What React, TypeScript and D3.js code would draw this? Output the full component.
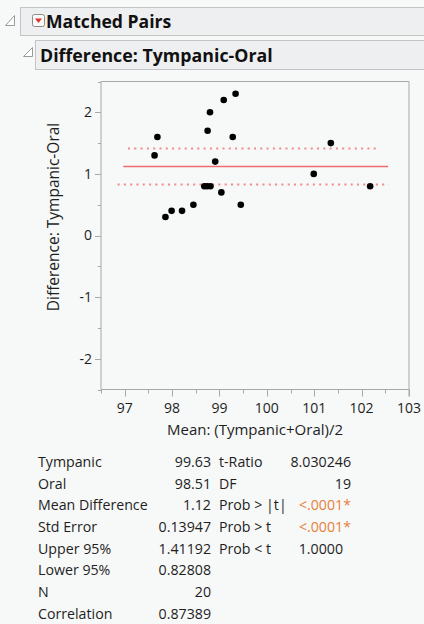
import React from "react";
import * as d3 from "d3";

const meanVals = [97.63, 97.69, 97.86, 97.99, 98.21, 98.45, 98.68, 98.74, 98.81, 98.75, 98.80, 98.91, 99.04, 99.09, 99.28, 99.34, 99.45, 100.99, 101.35, 102.18];
const diffVals = [1.3, 1.6, 0.3, 0.4, 0.4, 0.5, 0.8, 0.8, 0.8, 1.7, 2.0, 1.2, 0.7, 2.2, 1.6, 2.3, 0.5, 1.0, 1.5, 0.8];

const xTicks = [97, 98, 99, 100, 101, 102, 103];
const yTicks = [-2, -1, 0, 1, 2];
const xMinor = [96.5, 97.5, 98.5, 99.5, 100.5, 101.5, 102.5];
const yMinor = [-2.5, -1.5, -0.5, 0.5, 1.5, 2.5];

const meanDiff = 1.12;
const upper95 = 1.41192;
const lower95 = 0.82808;
const meanLineExtent = [96.97, 102.56];
const upperLineExtent = [97.07, 102.37];
const lowerLineExtent = [96.85, 102.57];

const leftLabels = ["Tympanic", "Oral", "Mean Difference", "Std Error", "Upper 95%", "Lower 95%", "N", "Correlation"];
const leftValues = ["99.63", "98.51", "1.12", "0.13947", "1.41192", "0.82808", "20", "0.87389"];
const rightLabels = ["t-Ratio", "DF", "Prob > |t|", "Prob > t", "Prob < t"];
const rightValues = ["8.030246", "19", "<.0001*", "<.0001*", "1.0000"];
const rightHighlight = [false, false, true, true, false];

const W = 424;
const H = 624;
const plot = { left: 101, right: 409, top: 81.5, bottom: 389.5 };
const font = "'Open Sans', 'Noto Sans', sans-serif";
const axisColor = "#a8a8a8";
const textColor = "#1e1e1e";

export default function App() {
  const x = d3.scaleLinear().domain([96.5, 103]).range([plot.left, plot.right]);
  const y = d3.scaleLinear().domain([-2.5, 2.5]).range([plot.bottom, plot.top]);

  const hline = (v: number, ext: number[]) =>
    d3.line<number>().x((d) => x(d)).y(() => y(v))(ext) || "";

  return (
    <svg
      width={W}
      height={H}
      style={{ position: "absolute", left: 0, top: 0, background: "#f7f8f8" }}
      fontFamily={font}
    >
      <rect x={0} y={0} width={W} height={H} fill="#f7f8f8" />

      {/* Header 1 */}
      <path d="M5.5,25.5 L14.5,15.5 L14.5,25.5 Z" fill="#fff" stroke="#9a9a9a" strokeWidth={1} />
      <rect x={20.5} y={7.5} width={410} height={28} fill="#eeeff0" stroke="#c4c4c4" />
      <rect x={32.5} y={14.5} width={12} height={12} rx={2} fill="#fafafa" stroke="#8a8a8a" />
      <path d="M35,18.5 L42,18.5 L38.5,23 Z" fill="#e0302a" />
      <text x={46} y={28} fontSize={17.6} fontWeight={700} fill="#111">Matched Pairs</text>

      {/* Header 2 */}
      <path d="M23.5,56.5 L32.5,47.5 L32.5,56.5 Z" fill="#fff" stroke="#9a9a9a" strokeWidth={1} />
      <rect x={35.5} y={40.5} width={395} height={29} fill="#eeeff0" stroke="#c4c4c4" />
      <text x={40} y={62} fontSize={17.8} fontWeight={700} fill="#111">Difference: Tympanic-Oral</text>

      {/* Plot area */}
      <line x1={plot.left} x2={plot.right} y1={plot.top} y2={plot.top} stroke={axisColor} />
      <line x1={plot.right} x2={plot.right} y1={plot.top} y2={plot.bottom + 7} stroke={axisColor} />
      <line x1={plot.left} x2={plot.left} y1={plot.top} y2={plot.bottom} stroke={axisColor} />
      <line x1={plot.left} x2={plot.right} y1={plot.bottom} y2={plot.bottom} stroke={axisColor} />

      {/* Y ticks */}
      {yTicks.map((t) => (
        <g key={"yt" + t}>
          <line x1={plot.left - 6} x2={plot.left} y1={Math.round(y(t)) + 0.5} y2={Math.round(y(t)) + 0.5} stroke={axisColor} />
          <text x={plot.left - 9} y={y(t)} dy="0.35em" textAnchor="end" fontSize={14} fill={textColor}>
            {t}
          </text>
        </g>
      ))}
      {yMinor.map((t) => (
        <line key={"ym" + t} x1={plot.left - 3} x2={plot.left} y1={Math.round(y(t)) + 0.5} y2={Math.round(y(t)) + 0.5} stroke={axisColor} />
      ))}

      {/* X ticks */}
      {xTicks.map((t) => (
        <g key={"xt" + t}>
          <line x1={Math.round(x(t)) + 0.5} x2={Math.round(x(t)) + 0.5} y1={plot.bottom} y2={plot.bottom + 7} stroke={axisColor} />
          <text x={x(t)} y={408} dy="0.35em" textAnchor="middle" fontSize={14} fill={textColor}>
            {t}
          </text>
        </g>
      ))}
      {xMinor.map((t) => (
        <line key={"xm" + t} x1={Math.round(x(t)) + 0.5} x2={Math.round(x(t)) + 0.5} y1={plot.bottom} y2={plot.bottom + 4} stroke={axisColor} />
      ))}

      {/* Axis labels */}
      <text x={255} y={430} dy="0.35em" textAnchor="middle" fontSize={15} fill={textColor}>
        Mean: (Tympanic+Oral)/2
      </text>
      <text
        transform={`translate(54, 217) rotate(-90)`}
        textAnchor="middle"
        dy="0.35em"
        fontSize={15.5}
        fill={textColor}
      >
        Difference: Tympanic-Oral
      </text>

      {/* Reference lines */}
      <path d={hline(meanDiff, meanLineExtent)} stroke="#f06b6b" strokeWidth={1.5} fill="none" />
      <path d={hline(upper95, upperLineExtent)} stroke="#f28a8a" strokeWidth={2} strokeDasharray="2,4.3" fill="none" />
      <path d={hline(lower95, lowerLineExtent)} stroke="#f28a8a" strokeWidth={2} strokeDasharray="2,4.3" fill="none" />

      {/* Points */}
      {meanVals.map((m, i) => (
        <circle key={"p" + i} cx={x(m)} cy={y(diffVals[i])} r={3.3} fill="#000" />
      ))}

      {/* Table */}
      {leftLabels.map((l, i) => (
        <g key={"l" + i} fontSize={14.2} fill={textColor}>
          <text x={38} y={462 + i * 21.7} dy="0.35em">{l}</text>
          <text x={211} y={462 + i * 21.7} dy="0.35em" textAnchor="end">{leftValues[i]}</text>
        </g>
      ))}
      {rightLabels.map((l, i) => (
        <g key={"r" + i} fontSize={14.2} fill={textColor}>
          <text x={219} y={462 + i * 21.7} dy="0.35em">{l}</text>
          <text
            x={i === 4 ? 343 : 351}
            y={462 + i * 21.7}
            dy="0.35em"
            textAnchor="end"
            fill={rightHighlight[i] ? "#e8803a" : textColor}
          >
            {rightValues[i]}
          </text>
        </g>
      ))}
    </svg>
  );
}
